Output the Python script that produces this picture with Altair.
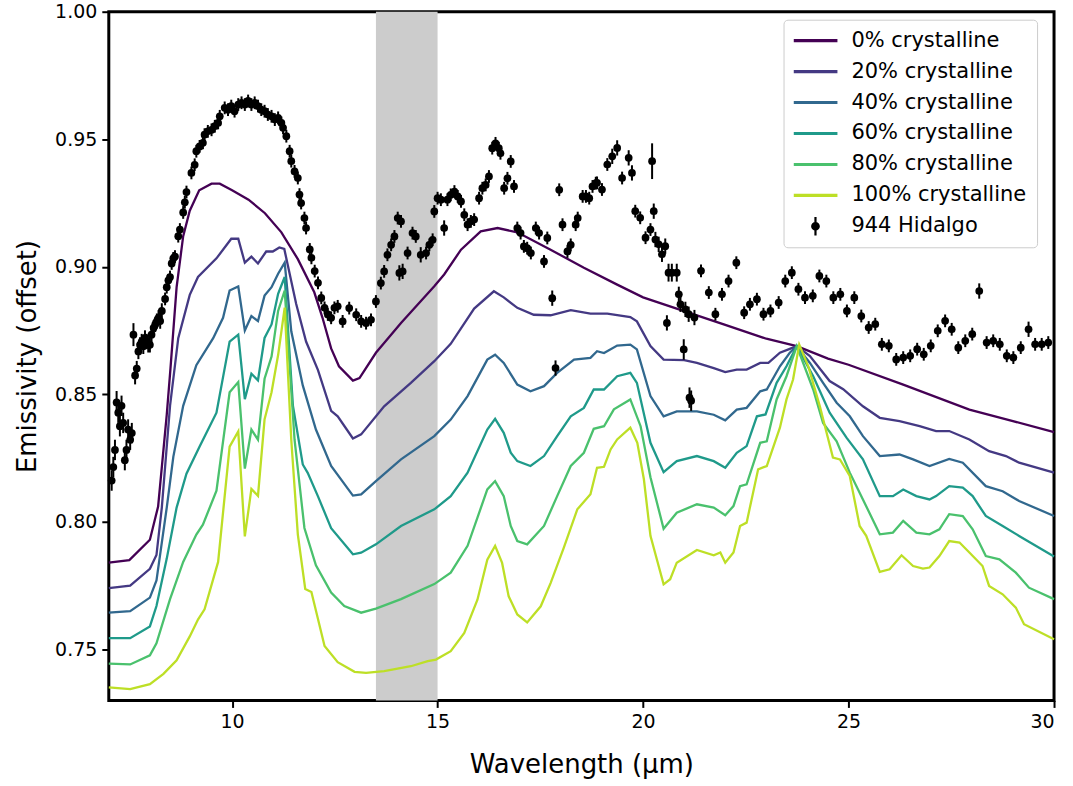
import altair as alt
import pandas as pd

series_names = ["0% crystalline", "20% crystalline", "40% crystalline",
                "60% crystalline", "80% crystalline", "100% crystalline"]
series_colors = ["#440154", "#443983", "#31688e", "#1f9a8a", "#4ac16d", "#bddf26"]

wl_0 = [7.0, 7.5, 8.0, 8.2, 8.41, 8.5, 8.65, 8.81, 8.97, 9.2, 9.5, 9.7, 10.0, 10.4, 10.8,
        11.2, 11.6, 12.0, 12.2, 12.41, 12.6, 12.94, 13.1, 13.5, 14.11, 14.92, 15.16, 15.57,
        16.05, 16.46, 16.94, 17.75, 18.56, 19.37, 20.0, 21.0, 22.0, 23.0, 23.74, 24.5, 25.0,
        26.33, 27.94, 29.0, 30.0]
em_0 = [0.784, 0.785, 0.793, 0.806, 0.842, 0.860, 0.892, 0.912, 0.922, 0.930, 0.9326, 0.9326,
        0.930, 0.9263, 0.921, 0.9135, 0.903, 0.890, 0.880, 0.868, 0.861, 0.8554, 0.8564, 0.8663,
        0.878, 0.8924, 0.897, 0.9067, 0.9139, 0.9152, 0.9135, 0.9067, 0.8996, 0.893, 0.888,
        0.8826, 0.8772, 0.8718, 0.8689, 0.864, 0.8616, 0.8538, 0.844, 0.8395, 0.8352]

wl_20 = [7.0, 7.52, 8.0, 8.16, 8.29, 8.49, 8.69, 8.97, 9.17, 9.62, 9.98, 10.15, 10.31, 10.47,
         10.63, 10.83, 10.99, 11.15, 11.27, 11.56, 11.8, 12.09, 12.41, 12.57, 12.94, 13.14,
         13.70, 14.35, 14.92, 15.32, 15.89, 16.37, 16.61, 16.94, 17.34, 17.75, 18.24, 18.72,
         19.13, 19.69, 19.85, 20.18, 20.5, 21.0, 21.31, 21.72, 22.0, 22.28, 22.52, 22.85, 23.05,
         23.33, 23.57, 23.74, 24.06, 24.54, 24.87, 25.35, 25.76, 26.24, 26.73, 27.13, 27.45,
         27.94, 28.42, 28.83, 29.15, 30.0]
em_20 = [0.774, 0.775, 0.7816, 0.787, 0.8056, 0.8455, 0.872, 0.889, 0.896, 0.9033, 0.911, 0.911,
         0.9016, 0.904, 0.9013, 0.906, 0.906, 0.9076, 0.907, 0.8854, 0.8707, 0.8595, 0.8435,
         0.8414, 0.8327, 0.8343, 0.8453, 0.8545, 0.863, 0.8698, 0.8836, 0.8904, 0.888, 0.8839,
         0.8812, 0.881, 0.883, 0.8816, 0.8816, 0.8803, 0.8786, 0.8689, 0.8636, 0.8634, 0.8623,
         0.8603, 0.8587, 0.8597, 0.8597, 0.8623, 0.8623, 0.8663, 0.8678, 0.8689, 0.865, 0.8552,
         0.852, 0.8453, 0.8408, 0.8395, 0.8375, 0.8356, 0.8356, 0.8323, 0.8277, 0.8258, 0.8232,
         0.8193]

wl_40 = [7.0, 7.52, 8.0, 8.16, 8.41, 8.57, 8.81, 9.13, 9.54, 9.78, 9.94, 10.15, 10.31, 10.47,
         10.63, 10.79, 10.96, 11.12, 11.28, 11.44, 11.72, 12.04, 12.41, 12.94, 13.14, 13.50,
         14.11, 14.92, 15.32, 15.73, 16.21, 16.40, 16.61, 16.94, 17.26, 17.59, 17.91, 18.32,
         18.72, 18.88, 19.05, 19.37, 19.69, 19.85, 20.18, 20.5, 20.82, 21.31, 21.72, 22.0, 22.28,
         22.52, 22.85, 23.01, 23.33, 23.57, 23.74, 24.06, 24.38, 24.71, 25.03, 25.35, 25.76,
         26.24, 26.57, 26.97, 27.45, 27.78, 28.34, 28.75, 29.15, 30.0]
em_40 = [0.7644, 0.765, 0.7703, 0.777, 0.8056, 0.8255, 0.8455, 0.8614, 0.872, 0.88, 0.8907,
         0.8923, 0.875, 0.8807, 0.8787, 0.8887, 0.892, 0.8973, 0.9016, 0.8747, 0.8535, 0.8362,
         0.8219, 0.8103, 0.8108, 0.816, 0.8245, 0.8336, 0.8401, 0.8493, 0.8636, 0.8655, 0.8623,
         0.8538, 0.8512, 0.8532, 0.8584, 0.8636, 0.8643, 0.8669, 0.8662, 0.8691, 0.8695, 0.8676,
         0.8493, 0.8414, 0.8433, 0.8433, 0.842, 0.8398, 0.844, 0.8447, 0.8512, 0.8519, 0.861,
         0.8663, 0.8689, 0.8623, 0.8545, 0.8467, 0.8414, 0.8336, 0.8258, 0.8264, 0.8245, 0.8219,
         0.8247, 0.8232, 0.814, 0.812, 0.8082, 0.8023]

wl_60 = [7.0, 7.52, 8.0, 8.16, 8.41, 8.65, 8.89, 9.21, 9.62, 9.94, 10.15, 10.31, 10.47, 10.63,
         10.79, 10.96, 11.12, 11.28, 11.48, 11.72, 11.84, 12.09, 12.41, 12.94, 13.14, 13.5,
         14.11, 14.92, 15.32, 15.73, 16.21, 16.40, 16.61, 16.78, 16.94, 17.26, 17.59, 17.91,
         18.24, 18.56, 18.80, 19.05, 19.37, 19.69, 19.85, 20.18, 20.5, 20.82, 21.31, 21.72, 22.0,
         22.28, 22.52, 22.77, 22.98, 23.25, 23.49, 23.74, 24.14, 24.54, 24.95, 25.35, 25.76,
         26.08, 26.33, 26.65, 26.97, 27.13, 27.45, 27.78, 28.02, 28.34, 28.75, 29.15, 30.0]
em_60 = [0.7544, 0.7544, 0.759, 0.767, 0.7856, 0.8056, 0.8189, 0.8295, 0.8428, 0.8707, 0.8734,
         0.8481, 0.8581, 0.8555, 0.8721, 0.8774, 0.8894, 0.896, 0.8455, 0.8225, 0.8192, 0.810,
         0.7975, 0.7873, 0.7879, 0.7912, 0.7984, 0.8049, 0.8101, 0.8193, 0.8362, 0.8404, 0.8349,
         0.8271, 0.8238, 0.8219, 0.8258, 0.8336, 0.8414, 0.8447, 0.8519, 0.8519, 0.8571, 0.8584,
         0.8545, 0.831, 0.8195, 0.8238, 0.8258, 0.8238, 0.8212, 0.8271, 0.8297, 0.8414, 0.8421,
         0.8545, 0.861, 0.8689, 0.8571, 0.8428, 0.833, 0.8245, 0.8101, 0.8101, 0.8127, 0.8101,
         0.8088, 0.8101, 0.814, 0.8134, 0.8101, 0.8023, 0.7984, 0.7945, 0.7864]

wl_80 = [7.0, 7.52, 8.0, 8.16, 8.49, 8.81, 9.13, 9.29, 9.62, 9.94, 10.15, 10.31, 10.47, 10.63,
         10.79, 10.96, 11.12, 11.28, 11.52, 11.76, 12.04, 12.41, 12.73, 13.14, 13.5, 14.11,
         14.92, 15.32, 15.73, 16.21, 16.40, 16.61, 16.78, 16.94, 17.18, 17.59, 17.91, 18.24,
         18.56, 18.80, 19.05, 19.29, 19.69, 19.94, 20.18, 20.5, 20.82, 21.31, 21.72, 22.0, 22.2,
         22.36, 22.52, 22.85, 23.01, 23.25, 23.49, 23.74, 24.14, 24.38, 24.71, 25.03, 25.35,
         25.76, 26.08, 26.33, 26.65, 26.97, 27.21, 27.45, 27.78, 28.02, 28.34, 28.67, 29.07,
         29.39, 30.0]
em_80 = [0.7444, 0.7441, 0.7477, 0.7524, 0.7697, 0.7843, 0.795, 0.7989, 0.8122, 0.8508, 0.8548,
         0.8209, 0.8362, 0.8322, 0.8561, 0.8648, 0.8827, 0.8907, 0.8322, 0.7976, 0.783, 0.7723,
         0.767, 0.7644, 0.766, 0.7697, 0.7756, 0.7801, 0.7906, 0.8127, 0.816, 0.8101, 0.7984,
         0.7925, 0.7912, 0.7984, 0.8101, 0.8219, 0.8271, 0.8365, 0.8375, 0.8441, 0.848, 0.8375,
         0.8175, 0.7973, 0.8036, 0.8069, 0.8056, 0.8026, 0.8062, 0.814, 0.8147, 0.831, 0.8316,
         0.848, 0.8571, 0.8689, 0.8519, 0.8388, 0.8316, 0.8193, 0.8088, 0.7951, 0.7958, 0.8004,
         0.7958, 0.7951, 0.7971, 0.803, 0.8023, 0.7971, 0.7866, 0.7853, 0.7801, 0.7742, 0.7697]

wl_100 = [7.0, 7.52, 8.0, 8.33, 8.65, 8.97, 9.17, 9.33, 9.66, 9.94, 10.15, 10.31, 10.47, 10.63,
          10.79, 10.96, 11.12, 11.28, 11.44, 11.6, 11.78, 11.93, 12.25, 12.57, 12.98, 13.26,
          13.70, 14.35, 14.76, 14.96, 15.32, 15.65, 15.97, 16.21, 16.40, 16.57, 16.73, 16.94,
          17.18, 17.51, 17.75, 18.07, 18.40, 18.72, 18.88, 19.05, 19.21, 19.37, 19.69, 19.86,
          20.02, 20.18, 20.5, 20.66, 20.82, 21.31, 21.72, 21.88, 22.0, 22.2, 22.36, 22.52, 22.8,
          23.01, 23.33, 23.49, 23.65, 23.80, 24.02, 24.30, 24.62, 24.79, 25.03, 25.27, 25.43,
          25.76, 26.0, 26.29, 26.57, 26.81, 26.97, 27.21, 27.45, 27.70, 27.94, 28.26, 28.42,
          28.75, 29.07, 29.27, 30.0]
em_100 = [0.7351, 0.7344, 0.7364, 0.7404, 0.7457, 0.7551, 0.7617, 0.7657, 0.7843, 0.8295, 0.8355,
          0.7943, 0.8129, 0.8102, 0.8402, 0.8508, 0.8654, 0.884, 0.8322, 0.795, 0.7737, 0.7725,
          0.7513, 0.745, 0.7412, 0.7408, 0.7415, 0.7434, 0.7454, 0.746, 0.7493, 0.7565, 0.7695,
          0.7852, 0.7906, 0.7839, 0.7708, 0.7637, 0.7606, 0.7669, 0.776, 0.7898, 0.8049, 0.8108,
          0.8212, 0.8216, 0.8284, 0.8323, 0.8369, 0.831, 0.8167, 0.7945, 0.7755, 0.7775, 0.784,
          0.789, 0.7869, 0.788, 0.784, 0.788, 0.7984, 0.7997, 0.8206, 0.8219, 0.8369, 0.848,
          0.8558, 0.8695, 0.861, 0.8454, 0.8252, 0.8245, 0.818, 0.7984, 0.7945, 0.7804, 0.7814,
          0.7869, 0.7827, 0.7817, 0.7821, 0.7866, 0.7925, 0.7919, 0.788, 0.7827, 0.7749, 0.7716,
          0.7664, 0.7599, 0.754]

hid_wl = [7.07, 7.11, 7.15, 7.19, 7.23, 7.27, 7.31, 7.35, 7.39, 7.43, 7.47, 7.52, 7.56, 7.6,
          7.64, 7.68, 7.72, 7.76, 7.8, 7.84, 7.88, 7.92, 7.96, 8.0, 8.04, 8.09, 8.13, 8.17, 8.21,
          8.25, 8.29, 8.37, 8.41, 8.45, 8.49, 8.53, 8.57, 8.61, 8.69, 8.73, 8.81, 8.85, 8.89,
          9.01, 9.09, 9.13, 9.21, 9.29, 9.33, 9.41, 9.5, 9.58, 9.66, 9.7, 9.82, 9.9, 9.98, 10.06,
          10.15, 10.23, 10.31, 10.39, 10.47, 10.55, 10.63, 10.71, 10.79, 10.87, 10.96, 11.04,
          11.12, 11.2, 11.24, 11.32, 11.4, 11.44, 11.52, 11.6, 11.64, 11.68, 11.76, 11.8, 11.89,
          11.93, 12.01, 12.09, 12.17, 12.25, 12.33, 12.41, 12.49,
          12.57, 12.69, 12.85, 13.02, 13.14, 13.26, 13.38, 13.50, 13.62, 13.70, 13.78, 13.87,
          13.95, 14.03, 14.11, 14.07, 14.15, 14.27, 14.39, 14.47, 14.59, 14.72, 14.80, 14.88,
          14.92, 15.00, 15.08, 15.16, 15.24, 15.32, 15.41, 15.49, 15.57, 15.65, 15.73, 15.81,
          15.89, 16.01, 16.09, 16.17, 16.25, 16.33, 16.41, 16.49, 16.53, 16.62, 16.70, 16.78,
          16.86, 16.94, 17.02, 17.10, 17.18, 17.27, 17.39, 17.47, 17.59, 17.67, 17.79, 17.87,
          17.96, 18.04, 18.16, 18.24, 18.36, 18.41, 18.53, 18.61, 18.69, 18.77, 18.85,
          18.88, 19.0, 19.13, 19.25, 19.37, 19.49, 19.65, 19.73, 19.81, 19.93, 20.06, 20.18,
          20.22, 20.26, 20.3, 20.38, 20.46, 20.54, 20.58, 20.62, 20.7, 20.82, 20.87, 20.91,
          20.99, 21.03, 21.11, 21.13, 21.17, 21.25, 21.41, 21.6, 21.76, 21.92, 22.08, 22.27,
          22.46, 22.6, 22.77, 22.93, 23.1, 23.3, 23.46, 23.62, 23.78, 23.94, 24.13, 24.29, 24.46,
          24.63, 24.8, 24.96, 25.14, 25.31, 25.49, 25.65, 25.81, 25.98, 26.16, 26.33, 26.5,
          26.67, 26.83, 27.0, 27.17, 27.35, 27.51, 27.67, 27.84, 28.01, 28.18, 28.36, 28.52,
          28.68, 28.85, 29.01, 29.19, 29.38, 29.54, 29.7, 29.86]
hid_em = [0.8162, 0.8215, 0.8282, 0.8468, 0.8428, 0.8375, 0.8455, 0.8388, 0.8242, 0.8282,
          0.8362, 0.8322, 0.8348, 0.8734, 0.8574, 0.8601, 0.8668, 0.8694, 0.8707, 0.8688,
          0.8721, 0.8707, 0.8694, 0.8694, 0.8734, 0.8761, 0.8774, 0.8787, 0.88, 0.8787, 0.8827,
          0.8874, 0.892, 0.8947, 0.896, 0.9013, 0.9033, 0.904, 0.912, 0.9146, 0.9213, 0.9253,
          0.9293, 0.9368, 0.94, 0.9453, 0.9472, 0.9486, 0.9518, 0.9531, 0.9537, 0.9551, 0.9564,
          0.959, 0.9623, 0.9616, 0.963, 0.961, 0.9636, 0.9643, 0.9636, 0.965, 0.9636, 0.9643,
          0.963, 0.9616, 0.961, 0.9597, 0.959, 0.9577, 0.9584, 0.9564, 0.9545, 0.9512, 0.9453,
          0.9414, 0.9374, 0.9348, 0.9283, 0.925, 0.9191, 0.9152, 0.9068, 0.9035, 0.8983, 0.8937,
          0.8878, 0.8839, 0.8813, 0.88, 0.8839,
          0.8845, 0.8786, 0.8838, 0.8812, 0.8786, 0.8779, 0.8792, 0.8864, 0.8936, 0.8982, 0.9047,
          0.9086, 0.9119, 0.9191, 0.9178, 0.8976, 0.8982, 0.9054, 0.9132, 0.9119, 0.9047, 0.9054,
          0.9086, 0.9106, 0.9217, 0.9269, 0.9263, 0.9152, 0.9263, 0.9282, 0.9295, 0.9276, 0.9256,
          0.9204, 0.9165, 0.9178, 0.9185, 0.9269, 0.9308, 0.9321, 0.9354, 0.9465, 0.9484, 0.9465,
          0.9445, 0.9308, 0.9347, 0.9413, 0.9315, 0.9152, 0.9132, 0.9080, 0.9073, 0.9054, 0.9152,
          0.9132, 0.9021, 0.9113, 0.8877, 0.8603, 0.9302, 0.9165, 0.9060, 0.9086, 0.9165, 0.9191,
          0.9276, 0.9276, 0.9269, 0.9315, 0.9328,
          0.9329, 0.9303, 0.9401, 0.9433, 0.9466, 0.9348, 0.9427, 0.9368, 0.9218, 0.9192, 0.9114,
          0.9146, 0.9414, 0.9218, 0.9107, 0.9088, 0.9049, 0.9081, 0.878, 0.8977, 0.8977, 0.8977,
          0.8892, 0.8853, 0.8676, 0.8833, 0.8814, 0.8487, 0.8475, 0.8801, 0.8984, 0.8899, 0.8814,
          0.8892, 0.8944, 0.9016, 0.882, 0.8853, 0.8873, 0.8814, 0.8827, 0.886, 0.8944, 0.8977,
          0.8912, 0.8879, 0.8886, 0.8964, 0.8944, 0.8879, 0.8892, 0.8827, 0.8879, 0.8807, 0.8762,
          0.8775, 0.8696, 0.869, 0.8637, 0.8644, 0.8651, 0.8677, 0.8657, 0.869, 0.8749, 0.8788,
          0.8755, 0.8683, 0.871, 0.8736, 0.8905, 0.8703, 0.871, 0.8696, 0.8651, 0.8644, 0.8683,
          0.8755, 0.8696, 0.8696, 0.8703]
hid_err = [0.004, 0.004, 0.004, 0.0045, 0.004, 0.004, 0.004, 0.004, 0.004, 0.004,
           0.004, 0.004, 0.004, 0.0045, 0.0035, 0.003, 0.003, 0.003, 0.003, 0.003,
           0.003, 0.003, 0.003, 0.003, 0.003, 0.003, 0.003, 0.003, 0.003, 0.003, 0.003,
           0.0025, 0.0025, 0.0025, 0.0025, 0.0025, 0.0025, 0.0025, 0.0025, 0.0025, 0.0025, 0.0025,
           0.0025, 0.0025, 0.0025, 0.0025, 0.0025, 0.0025, 0.0025, 0.0025, 0.0025, 0.0025, 0.0025,
           0.0025, 0.0025, 0.0025, 0.0025, 0.0025, 0.0025, 0.0025, 0.0025, 0.0025, 0.0025, 0.0025,
           0.0025, 0.0025, 0.0025, 0.0025, 0.0025, 0.0025, 0.0025, 0.0025, 0.0025, 0.0025, 0.0025,
           0.0025, 0.0025, 0.0025, 0.0025, 0.0025, 0.0025, 0.0025, 0.0025, 0.0025, 0.0025, 0.0025,
           0.0025, 0.0025, 0.0025, 0.0025, 0.0025,
           0.0025, 0.0025, 0.0025, 0.0025, 0.0025, 0.0025, 0.0025, 0.0025, 0.0025, 0.0025, 0.0025,
           0.0025, 0.0025, 0.0025, 0.0025, 0.003, 0.003, 0.0025, 0.0025, 0.0025, 0.003, 0.0025,
           0.0025, 0.0025, 0.0025, 0.0025, 0.0025, 0.003, 0.0025, 0.0025, 0.0025, 0.0025, 0.0025,
           0.0025, 0.0025, 0.0025, 0.0025, 0.0025, 0.0025, 0.0025, 0.0025, 0.0025, 0.0025, 0.0025,
           0.0025, 0.0025, 0.0025, 0.0025, 0.0025, 0.0025, 0.0025, 0.0025, 0.0025, 0.0025, 0.0025,
           0.0025, 0.0025, 0.0025, 0.003, 0.003, 0.0025, 0.0025, 0.0025, 0.0025, 0.0025, 0.0025,
           0.0025, 0.0025, 0.0025, 0.0025, 0.0025,
           0.0025, 0.0025, 0.0025, 0.003, 0.003, 0.0025, 0.003, 0.003, 0.0025, 0.0025, 0.0025,
           0.0025, 0.007, 0.003, 0.003, 0.003, 0.003, 0.003, 0.003, 0.0035, 0.0035, 0.0035,
           0.003, 0.003, 0.004, 0.003, 0.003, 0.004, 0.004, 0.003, 0.0025, 0.0025, 0.0025,
           0.0025, 0.0025, 0.0025, 0.0025, 0.0025, 0.0025, 0.0025, 0.0025, 0.0025, 0.0025, 0.0025,
           0.0025, 0.0025, 0.0025, 0.0025, 0.0025, 0.0025, 0.0025, 0.0025, 0.0025, 0.0025, 0.0025,
           0.0025, 0.0025, 0.0025, 0.0025, 0.0025, 0.0025, 0.0025, 0.0025, 0.0025, 0.0025, 0.0025,
           0.0025, 0.0025, 0.0025, 0.0025, 0.003, 0.0025, 0.0025, 0.0025, 0.0025, 0.0025, 0.0025,
           0.003, 0.0025, 0.0025, 0.0025]

shade_span = [13.5, 15.0]
x_ticks = [10, 15, 20, 25, 30]
y_ticks = [0.75, 0.80, 0.85, 0.90, 0.95, 1.00]

# ---- tables ----
rows = []
for name, xs, ys in zip(series_names, [wl_0, wl_20, wl_40, wl_60, wl_80, wl_100],
                        [em_0, em_20, em_40, em_60, em_80, em_100]):
    for x, y in zip(xs, ys):
        rows.append({"series": name, "wl": x, "em": y})
lines_df = pd.DataFrame(rows)
hid_df = pd.DataFrame({"wl": hid_wl, "em": hid_em, "err": hid_err})
shade_df = pd.DataFrame({"x0": [shade_span[0]], "x1": [shade_span[1]]})

FONT = "DejaVu Sans"
LINE_PATH = "M-1,-0.07L1,-0.07L1,0.07L-1,0.07Z"
ERR_PATH = ("M-0.05,-0.42L0.05,-0.42L0.05,-0.15L-0.05,-0.15Z "
            "M-0.05,0.15L0.05,0.15L0.05,0.42L-0.05,0.42Z "
            "M-0.2,0A0.2,0.2 0 1,1 0.2,0A0.2,0.2 0 1,1 -0.2,0Z")

legend_domain = series_names + ["944 Hidalgo"]
color_scale = alt.Scale(domain=legend_domain, range=series_colors + ["#000000"])
shape_scale = alt.Scale(domain=legend_domain, range=[LINE_PATH] * 6 + [ERR_PATH])
stroke_scale = alt.Scale(domain=series_names, range=series_colors)

xscale = alt.Scale(domain=[7, 30], nice=False, zero=False)
yscale = alt.Scale(domain=[0.73, 1.0], nice=False, zero=False)

x_axis = alt.Axis(values=x_ticks, title="Wavelength (μm)", format="d",
                  labelFontSize=19, titleFontSize=26, labelPadding=5, titlePadding=20,
                  tickSize=7, tickWidth=2, tickColor="black", labelColor="black",
                  titleColor="black", titleFontWeight="normal", grid=False, domain=False,
                  labelFont=FONT, titleFont=FONT)
y_axis = alt.Axis(values=y_ticks, title="Emissivity (offset)", format=".2f",
                  labelFontSize=19, titleFontSize=26, labelPadding=5, titlePadding=14,
                  tickSize=7, tickWidth=2, tickColor="black", labelColor="black",
                  titleColor="black", titleFontWeight="normal", grid=False, domain=False,
                  labelFont=FONT, titleFont=FONT)

legend = alt.Legend(title=None, orient="none", legendX=676, legendY=8,
                    symbolSize=1936, clipHeight=22, rowPadding=9, labelFontSize=21,
                    labelFont=FONT, labelColor="black", labelOffset=14, padding=10,
                    strokeColor="#cccccc", fillColor="white", cornerRadius=4,
                    symbolStrokeWidth=0, symbolOpacity=1, labelLimit=400)

shade = alt.Chart(shade_df).mark_rect(color="#cccccc").encode(
    x=alt.X("x0:Q", scale=xscale, axis=x_axis),
    x2="x1:Q",
)

lines = alt.Chart(lines_df).mark_line(strokeWidth=2.3).encode(
    x=alt.X("wl:Q", scale=xscale, axis=x_axis),
    y=alt.Y("em:Q", scale=yscale, axis=y_axis),
    stroke=alt.Stroke("series:N", scale=stroke_scale, legend=None),
    detail="series:N",
)

errbars = alt.Chart(hid_df).transform_calculate(
    lo="datum.em - datum.err", hi="datum.em + datum.err"
).mark_rule(color="black", strokeWidth=2).encode(
    x=alt.X("wl:Q", scale=xscale, axis=x_axis),
    y=alt.Y("lo:Q", scale=yscale, axis=y_axis),
    y2="hi:Q",
)

points = alt.Chart(hid_df).mark_circle(color="black", opacity=1, size=60).encode(
    x=alt.X("wl:Q", scale=xscale, axis=x_axis),
    y=alt.Y("em:Q", scale=yscale, axis=y_axis),
)

legend_layer = alt.Chart(lines_df).transform_filter("false").mark_point(
    filled=True, opacity=1
).encode(
    x=alt.X("wl:Q", scale=xscale, axis=x_axis),
    y=alt.Y("em:Q", scale=yscale, axis=y_axis),
    color=alt.Color("series:N", scale=color_scale, legend=legend),
    shape=alt.Shape("series:N", scale=shape_scale, legend=legend),
)

chart = alt.layer(shade, lines, errbars, points, legend_layer).properties(
    width=947, height=690,
    padding={"left": 14, "top": 2, "right": 14, "bottom": 5},
    background="white",
).configure(font=FONT).configure_view(
    stroke="black", strokeWidth=3
)

chart.save("out.html", embed_options={"renderer": "svg", "actions": False})
